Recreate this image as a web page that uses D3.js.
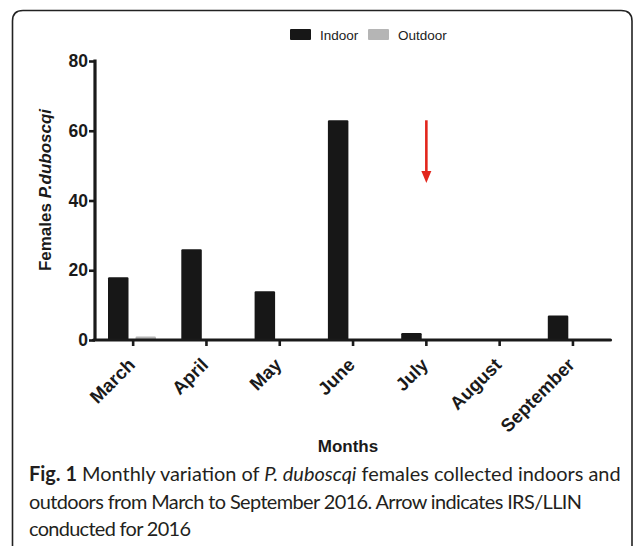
<!DOCTYPE html>
<html>
<head>
<meta charset="utf-8">
<script src="https://cdn.jsdelivr.net/npm/d3@7"></script>
<style>
  html, body { margin: 0; padding: 0; background: #fff; }
  svg { display: block; }
</style>
</head>
<body>
<svg id="chart" width="637" height="546"></svg>
<script>
// ---- data ----
const months = ["March", "April", "May", "June", "July", "August", "September"];
const series = ["Indoor", "Outdoor"];
const indoor = [18, 26, 14, 63, 2, 0, 7];
const outdoor = [1, 0, 0, 0, 0, 0, 0];
const yTicks = [0, 20, 40, 60, 80];
const arrowMonth = "July";
const arrowFromTo = [63, 45];
const yLabelParts = ["Females ", "P.duboscqi"];
const xLabel = "Months";
const captionLines = [
  [["Fig. 1", "bold"], [" Monthly variation of ", "normal"], ["P. duboscqi", "italic"], [" females collected indoors and", "normal"]],
  [["outdoors from March to September 2016. Arrow indicates IRS/LLIN", "normal"]],
  [["conducted for 2016", "normal"]]
];

// ---- styles ----
const colors = { Indoor: "#171717", Outdoor: "#b5b5b5" };
const ink = "#1a1a1a";
const axisFont = "'Liberation Sans', Arial, Helvetica, sans-serif";

const svg = d3.select("#chart");

// frame
svg.append("path")
  .attr("d", "M12.5,546 L12.5,21 Q12.5,10.5 23,10.5 L621,10.5 Q632,10.5 632,21 L632,546")
  .attr("fill", "none").attr("stroke", "#222").attr("stroke-width", 1.6);

// scales
const y = d3.scaleLinear().domain([0, 80]).range([340, 61]);
const x0 = d3.scaleBand().domain(months).range([96.5, 609.6]).padding(0);
const x1 = d3.scaleBand().domain(series).range([11.5, 59.5]).paddingInner(0.2545).paddingOuter(0);

const vals = { Indoor: indoor, Outdoor: outdoor };

// bars
const g = svg.append("g");
months.forEach((m, i) => {
  series.forEach(s => {
    const v = vals[s][i];
    if (v <= 0) return;
    g.append("rect")
      .attr("x", x0(m) + x1(s))
      .attr("y", y(v))
      .attr("width", x1.bandwidth())
      .attr("height", y(0) - y(v))
      .attr("rx", 1.2)
      .attr("fill", colors[s]);
  });
});

// y axis
const yAxis = svg.append("g")
  .attr("transform", "translate(95,0)")
  .call(d3.axisLeft(y).tickValues(yTicks).tickSize(6).tickSizeOuter(0).tickPadding(1));
yAxis.select(".domain").attr("stroke", ink).attr("stroke-width", 3.2)
  .attr("d", `M0,${y(80) - 1.5}V${y(0)}`);
yAxis.selectAll(".tick line").attr("stroke", ink).attr("stroke-width", 2.6);
yAxis.selectAll(".tick text")
  .attr("font-family", axisFont).attr("font-weight", "bold").attr("font-size", 17.5)
  .attr("fill", ink);

// x axis
const xAxis = svg.append("g")
  .attr("transform", "translate(0,340)")
  .call(d3.axisBottom(x0).tickSize(6).tickSizeOuter(0));
xAxis.select(".domain").attr("stroke", ink).attr("stroke-width", 3.2)
  .attr("d", `M93.5,0H610.5`).attr("stroke-linecap", "round");
xAxis.selectAll(".tick line").attr("stroke", ink).attr("stroke-width", 2.6);
xAxis.selectAll(".tick text")
  .attr("font-family", axisFont).attr("font-weight", "bold").attr("font-size", 18.5)
  .attr("fill", ink)
  .attr("text-anchor", "end")
  .attr("x", 0).attr("y", 0).attr("dy", 0)
  .attr("transform", "translate(3,26) rotate(-45)");

// y label
const yl = svg.append("text")
  .attr("transform", "translate(51,190) rotate(-90)")
  .attr("text-anchor", "middle")
  .attr("font-family", axisFont).attr("font-weight", "bold").attr("font-size", 17)
  .attr("fill", ink);
yl.append("tspan").text(yLabelParts[0]);
yl.append("tspan").attr("font-style", "italic").text(yLabelParts[1]);

// x label
svg.append("text")
  .attr("x", 348).attr("y", 451.5)
  .attr("text-anchor", "middle")
  .attr("font-family", axisFont).attr("font-weight", "bold").attr("font-size", 17)
  .attr("fill", ink)
  .text(xLabel);

// legend
const leg = svg.append("g");
series.forEach((s, i) => {
  const lx = 290 + i * 78;
  leg.append("rect").attr("x", lx).attr("y", 29).attr("width", 21).attr("height", 11)
    .attr("rx", 1).attr("fill", colors[s]);
  leg.append("text").attr("x", lx + 30).attr("y", 39.5)
    .attr("font-family", axisFont).attr("font-size", 13.5).attr("fill", "#222")
    .text(s);
});

// arrow
const ax = x0(arrowMonth) + x0.bandwidth() / 2;
const red = "#e2261c";
svg.append("line")
  .attr("x1", ax).attr("x2", ax)
  .attr("y1", y(arrowFromTo[0])).attr("y2", y(arrowFromTo[1]) - 10)
  .attr("stroke", red).attr("stroke-width", 2.6);
const tipY = y(arrowFromTo[1]);
svg.append("path")
  .attr("d", `M${ax - 5},${tipY - 12}L${ax + 5},${tipY - 12}L${ax},${tipY}Z`)
  .attr("fill", red);

// caption
const capFont = "Lato, 'Open Sans', sans-serif";
const baselines = [481, 508.5, 536];
const lineWidths = [592, 553, 162];
let capSize = 19;
const capTexts = captionLines.map((parts, li) => {
  const t = svg.append("text")
    .attr("x", 29).attr("y", baselines[li])
    .attr("font-family", capFont).attr("font-size", capSize).attr("fill", "#231f20");
  parts.forEach(([txt, st]) => {
    const sp = t.append("tspan").text(txt);
    if (st === "bold") sp.attr("font-weight", "bold");
    if (st === "italic") sp.attr("font-style", "italic");
  });
  return t;
});
// fit the first line to its width in the figure; other lines share the size
const w0 = capTexts[0].node().getComputedTextLength();
capSize = capSize * lineWidths[0] / w0;
capTexts.forEach((t, i) => {
  t.attr("font-size", capSize);
  if (i > 0) t.attr("textLength", lineWidths[i]).attr("lengthAdjust", "spacing");
});
</script>
</body>
</html>
